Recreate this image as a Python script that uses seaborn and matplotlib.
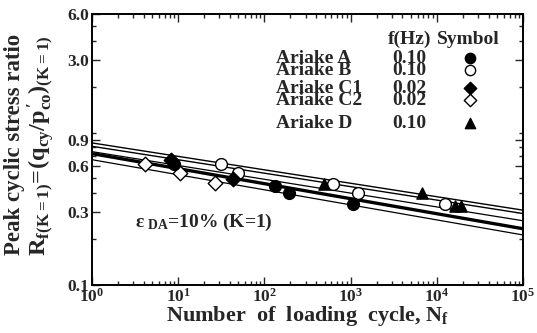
import numpy as np
import pandas as pd
import seaborn as sns
import matplotlib
matplotlib.use("Agg")
import matplotlib.pyplot as plt
from matplotlib.ticker import FixedLocator, FuncFormatter, LogLocator, NullFormatter

# ---- data ----
names = ["Ariake A", "Ariake B", "Ariake C1", "Ariake C2", "Ariake D"]
freqs = ["0.10", "0.10", "0.02", "0.02", "0.10"]
key_marker = ["o", "o", "D", "D", "^"]
key_face = ["black", "white", "black", "white", "black"]

a_N = [9.0, 134, 195, 1055]
a_R = [0.62, 0.448, 0.403, 0.341]
b_N = [31.6, 49.7, 619, 1206, 12400]
b_R = [0.625, 0.545, 0.462, 0.403, 0.341]
c1_N = [8.2, 43.6]
c1_R = [0.66, 0.498]
c2_N = [4.1, 10.5, 27]
c2_R = [0.625, 0.54, 0.469]
d_N = [486, 6690, 16200, 19000]
d_R = [0.462, 0.403, 0.331, 0.331]

fit_N = [1, 1e5]
fit_upper = [0.834, 0.302]
fit_mid = [0.750, 0.264]
fit_thick = [0.728, 0.234]
fit_lower = [0.664, 0.213]

ytick_vals = [0.1, 0.3, 0.6, 0.9, 3.0, 6.0]
xtick_vals = [1, 10, 100, 1000, 10000, 100000]

# ---- style ----
sns.set_style("ticks")
plt.rcParams["font.family"] = ["Liberation Serif", "DejaVu Serif"]
plt.rcParams["font.weight"] = "bold"
plt.rcParams["mathtext.fontset"] = "custom"
plt.rcParams["mathtext.rm"] = "Liberation Serif:bold"
plt.rcParams["mathtext.it"] = "Liberation Serif:bold"
plt.rcParams["mathtext.bf"] = "Liberation Serif:bold"

fig = plt.figure(figsize=(5.37, 3.33), dpi=100)
ax = fig.add_axes([92/537, 1-285/333, (523-92)/537, (285-14)/333])

# fit lines
sns.lineplot(x=fit_N, y=fit_upper, ax=ax, color="black", lw=3.4, zorder=2)
sns.lineplot(x=fit_N, y=fit_upper, ax=ax, color="white", lw=1.4, zorder=2.1)
sns.lineplot(x=fit_N, y=fit_mid, ax=ax, color="black", lw=0.9, zorder=2)
sns.lineplot(x=fit_N, y=fit_thick, ax=ax, color="black", lw=2.4, zorder=2)
sns.lineplot(x=fit_N, y=fit_lower, ax=ax, color="black", lw=0.9, zorder=2)

# points
kw = dict(ax=ax, edgecolor="black", linewidth=1.0, zorder=3, legend=False)
sns.scatterplot(x=c2_N, y=c2_R, marker="D", color="white", s=55, **kw)
sns.scatterplot(x=b_N, y=b_R, marker="o", color="white", s=72, **kw)
sns.scatterplot(x=a_N, y=a_R, marker="o", color="black", s=72, **kw)
sns.scatterplot(x=c1_N, y=c1_R, marker="D", color="black", s=55, **kw)
sns.scatterplot(x=d_N, y=d_R, marker="^", color="black", s=65, **kw)

ax.set_xscale("log")
ax.set_yscale("log")
ax.set_xlim(1, 1e5)
ax.set_ylim(0.1, 6.0)

ax.yaxis.set_major_locator(FixedLocator(ytick_vals))
ax.yaxis.set_major_formatter(FuncFormatter(lambda v, p: f"{v:.1f}"))
ax.yaxis.set_minor_locator(LogLocator(base=10, subs=np.arange(1, 10)))
ax.yaxis.set_minor_formatter(NullFormatter())
ax.xaxis.set_major_locator(FixedLocator(xtick_vals))
ax.xaxis.set_major_formatter(FuncFormatter(lambda v, p: r"$\mathbf{10^{%d}}$" % round(np.log10(v))))
ax.xaxis.set_minor_locator(LogLocator(base=10, subs=np.arange(2, 10)))
ax.xaxis.set_minor_formatter(NullFormatter())

ax.tick_params(which="both", direction="in", top=True, right=True, width=1.0)
ax.tick_params(which="major", length=6, labelsize=12.5, pad=2)
ax.tick_params(which="minor", length=3)
for lab in ax.get_yticklabels() + ax.get_xticklabels():
    lab.set_fontweight("bold")
for s in ax.spines.values():
    s.set_linewidth(1.4)
    s.set_color("black")

ax.set_xlabel("Number  of  loading  cycle, N$_{\\mathbf{f}}$", fontsize=16,
              fontweight="bold", labelpad=-1)
ax.set_ylabel("")

fig.text(15/537, 1-144/333, "Peak cyclic stress ratio", rotation=90, ha="center",
         va="center", fontsize=16.5, fontweight="bold")
fig.text(41/537, 1-146/333,
         r"$\mathbf{R_{f(K=1)}\!=\!(q_{cy}/p_{co}^{\,\prime})_{(K=1)}}$",
         rotation=90, ha="center", va="center", fontsize=17.5)

ax.text(0.26, 0.23, r"$\mathbf{\varepsilon_{\ DA}}$=10% (K=1)", transform=ax.transAxes,
        ha="center", va="center", fontsize=14, fontweight="bold")

# legend table
ax.text(0.737, 0.905, "f(Hz)", transform=ax.transAxes, ha="center", va="center",
        fontsize=14, fontweight="bold")
ax.text(0.872, 0.905, "Symbol", transform=ax.transAxes, ha="center", va="center",
        fontsize=14, fontweight="bold")
row_y = [0.837, 0.793, 0.726, 0.681, 0.596]
for nm, fq, mk, fc, yy in zip(names, freqs, key_marker, key_face, row_y):
    ax.text(0.427, yy, nm, transform=ax.transAxes, ha="left", va="center",
            fontsize=14, fontweight="bold")
    ax.text(0.737, yy, fq, transform=ax.transAxes, ha="center", va="center",
            fontsize=14, fontweight="bold")
    ax.scatter([0.877], [yy], transform=ax.transAxes, marker=mk, s=55 if mk != "D" else 40,
               facecolor=fc, edgecolor="black", linewidth=1.0, clip_on=False, zorder=4)

fig.savefig("out.png", dpi=100)
